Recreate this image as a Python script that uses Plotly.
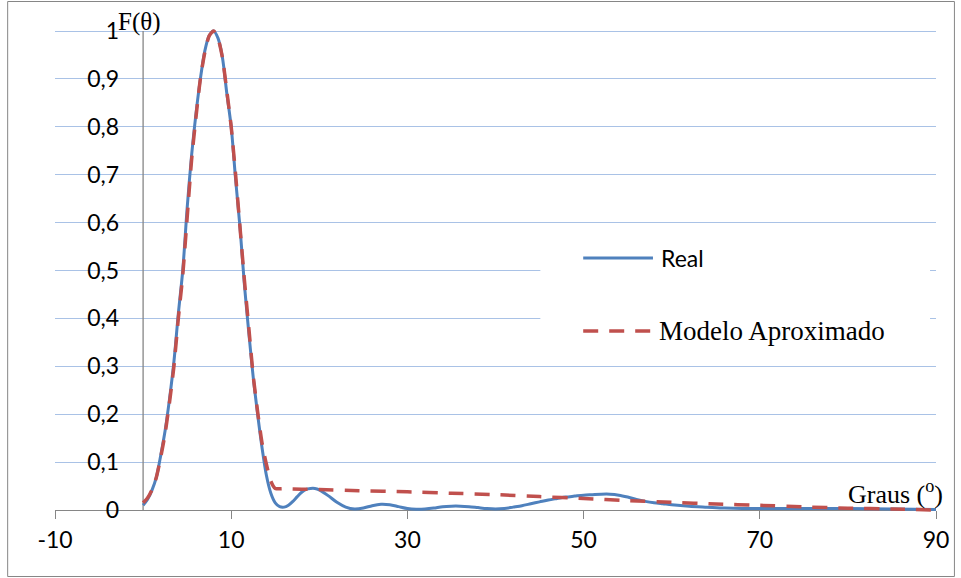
import plotly.graph_objects as go

# Radiation pattern samples (angle in degrees, normalised field)
theta_real = [0, 0.5, 1.0, 1.5, 2.0, 2.5, 3.0, 3.5, 4.0, 4.5, 5.0, 5.5, 6.0, 6.5,
              7.0, 7.5, 8.0, 8.5, 9.0, 9.5, 10.0, 10.5, 11.0, 11.5, 12.0, 12.5,
              13.0, 13.5, 14.0, 14.5, 15.0, 15.5, 16.0, 16.5, 17.0, 17.5, 18.0,
              18.5, 19.0, 19.5, 20.0, 21.0, 22.0, 23.0, 24.0, 25.0, 26.0, 27.0,
              28.0, 29.0, 30.0, 31.0, 32.0, 33.0, 34.0, 35.0, 36.0, 37.0, 38.0,
              39.0, 40.0, 41.0, 42.0, 43.0, 44.0, 45.0, 46.0, 47.0, 48.0, 49.0,
              50.0, 51.0, 52.0, 53.0, 54.0, 55.0, 56.0, 57.0, 58.0, 59.0, 60.0,
              62.0, 64.0, 66.0, 68.0, 70.0, 75.0, 80.0, 85.0, 90.0]
f_real = [0.010, 0.022, 0.041, 0.068, 0.114, 0.166, 0.232, 0.310, 0.410, 0.500,
          0.630, 0.740, 0.827, 0.900, 0.958, 0.990, 1.000, 0.985, 0.945, 0.870,
          0.800, 0.690, 0.590, 0.470, 0.370, 0.277, 0.200, 0.130, 0.072, 0.035,
          0.015, 0.007, 0.006, 0.010, 0.018, 0.028, 0.037, 0.043, 0.045, 0.045,
          0.042, 0.030, 0.016, 0.006, 0.002, 0.004, 0.009, 0.012, 0.011, 0.007,
          0.003, 0.0015, 0.002, 0.004, 0.007, 0.008, 0.008, 0.007, 0.005, 0.003,
          0.002, 0.003, 0.006, 0.009, 0.013, 0.017, 0.021, 0.024, 0.027, 0.029,
          0.031, 0.032, 0.033, 0.033, 0.031, 0.027, 0.022, 0.018, 0.015, 0.013,
          0.011, 0.008, 0.006, 0.004, 0.003, 0.003, 0.003, 0.003, 0.002, 0.001]

theta_model = [0, 0.5, 1.0, 1.5, 2.0, 2.5, 3.0, 3.5, 4.0, 4.5, 5.0, 5.5, 6.0, 6.5,
               7.0, 7.5, 8.0, 8.5, 9.0, 9.5, 10.0, 10.5, 11.0, 11.5, 12.0, 12.5,
               13.0, 13.5, 14.0, 14.5, 15.0, 16.0, 18.0, 20.0, 24.5, 30.0, 35.0,
               40.0, 45.0, 50.0, 55.0, 60.0, 65.0, 70.0, 75.0, 80.0, 85.0, 90.0]
f_model = [0.015, 0.025, 0.042, 0.068, 0.110, 0.160, 0.225, 0.300, 0.400, 0.490,
           0.610, 0.730, 0.820, 0.900, 0.955, 0.990, 1.000, 0.985, 0.945, 0.875,
           0.800, 0.700, 0.590, 0.480, 0.380, 0.280, 0.205, 0.140, 0.095, 0.060,
           0.045, 0.0445, 0.0435, 0.043, 0.040, 0.038, 0.035, 0.032, 0.028, 0.024,
           0.0195, 0.016, 0.0125, 0.0098, 0.0065, 0.0038, 0.002, 0.0]

series_names = ["Real", "Modelo Aproximado"]

x_tickvals = [-10, 10, 30, 50, 70, 90]
x_ticktext = ["-10", "10", "30", "50", "70", "90"]
y_tickvals = [0, 0.1, 0.2, 0.3, 0.4, 0.5, 0.6, 0.7, 0.8, 0.9, 1.0]
y_ticktext = ["0", "0,1", "0,2", "0,3", "0,4", "0,5", "0,6", "0,7", "0,8", "0,9", "1"]

# ---- page geometry (pixels) ----
W, H = 961, 578
L, R = 55, 939          # plot area left/right
T, B = 26, 512          # plot area top/bottom
Y0_PX, Y1_PX = 510, 31  # pixel rows of F=0 and F=1
X_MIN, X_MAX = -10, 90

unit = Y0_PX - Y1_PX
y_lo = -(B - Y0_PX) / unit
y_hi = 1 + (Y1_PX - T) / unit


def xp(px):
    return (px - L) / (R - L)


def yp(py):
    return (B - py) / (B - T)


BLUE = "#4F81BD"
RED = "#C0504D"
AXIS = "#868686"
GRID = "#a9c2e6"
DASH = "15px,11px"
SANS = "Lato"
SERIF = "Liberation Serif"

fig = go.Figure()
fig.add_trace(go.Scatter(x=theta_real, y=f_real, name=series_names[0], mode="lines",
                         line=dict(color=BLUE, width=3, shape="spline", smoothing=0.8)))
fig.add_trace(go.Scatter(x=theta_model, y=f_model, name=series_names[1], mode="lines",
                         line=dict(color=RED, width=3.5, dash=DASH, shape="spline",
                                   smoothing=0.6)))

shapes = [
    # vertical axis line through theta = 0
    dict(type="line", xref="x", yref="y", x0=0, x1=0, y0=0, y1=1,
         line=dict(color=AXIS, width=1.3), layer="between"),
    # legend background
    dict(type="rect", xref="paper", yref="paper", x0=xp(542), x1=xp(933),
         y0=yp(364), y1=yp(224), fillcolor="white", line=dict(width=0),
         layer="above"),
    # legend samples
    dict(type="line", xref="paper", yref="paper", x0=xp(585), x1=xp(655),
         y0=yp(258), y1=yp(258), line=dict(color=BLUE, width=3)),
    dict(type="line", xref="paper", yref="paper", x0=xp(585), x1=xp(653),
         y0=yp(331), y1=yp(331), line=dict(color=RED, width=3.5, dash=DASH)),
    # chart frame
    dict(type="rect", xref="paper", yref="paper", x0=xp(7.5), x1=xp(957.5),
         y0=yp(576.5), y1=yp(1.5), line=dict(color=AXIS, width=1)),
]

annotations = [
    dict(text=series_names[0], xref="paper", yref="paper", x=xp(661), y=yp(258),
         xanchor="left", yanchor="middle", showarrow=False,
         font=dict(family=SANS, size=23, color="black")),
    dict(text=series_names[1], xref="paper", yref="paper", x=xp(659), y=yp(331),
         xanchor="left", yanchor="middle", showarrow=False,
         font=dict(family=SERIF, size=27, color="black")),
    dict(text="F(θ)", xref="paper", yref="paper", x=xp(140), y=yp(22),
         xanchor="center", yanchor="middle", showarrow=False,
         font=dict(family=SERIF, size=25, color="black")),
    dict(text="Graus (<sup>o</sup>)", xref="paper", yref="paper", x=xp(948), y=yp(492),
         xanchor="right", yanchor="middle", showarrow=False,
         font=dict(family=SERIF, size=26, color="black")),
]

fig.update_layout(
    width=W, height=H,
    margin=dict(l=L, r=W - R, t=T, b=H - B, pad=0),
    paper_bgcolor="white", plot_bgcolor="white",
    showlegend=False,
    shapes=shapes, annotations=annotations,
    xaxis=dict(range=[X_MIN, X_MAX], tickmode="array", tickvals=x_tickvals,
               ticktext=x_ticktext, showgrid=False, zeroline=False,
               showline=True, linecolor=AXIS, linewidth=1.3,
               ticks="outside", ticklen=8, tickcolor=AXIS, tickwidth=1.3,
               anchor="free", position=(0 - y_lo) / (y_hi - y_lo),
               ticklabelstandoff=1,
               tickfont=dict(family=SANS, size=23, color="black"),
               layer="below traces"),
    yaxis=dict(range=[y_lo, y_hi], tickmode="array", tickvals=y_tickvals,
               ticktext=y_ticktext, showgrid=True, gridcolor=GRID, gridwidth=1,
               zeroline=False, showline=False, ticks="",
               anchor="free", position=(0 - X_MIN) / (X_MAX - X_MIN),
               ticklabelstandoff=24,
               tickfont=dict(family=SANS, size=23, color="black")),
)

fig.write_html("out.html")
